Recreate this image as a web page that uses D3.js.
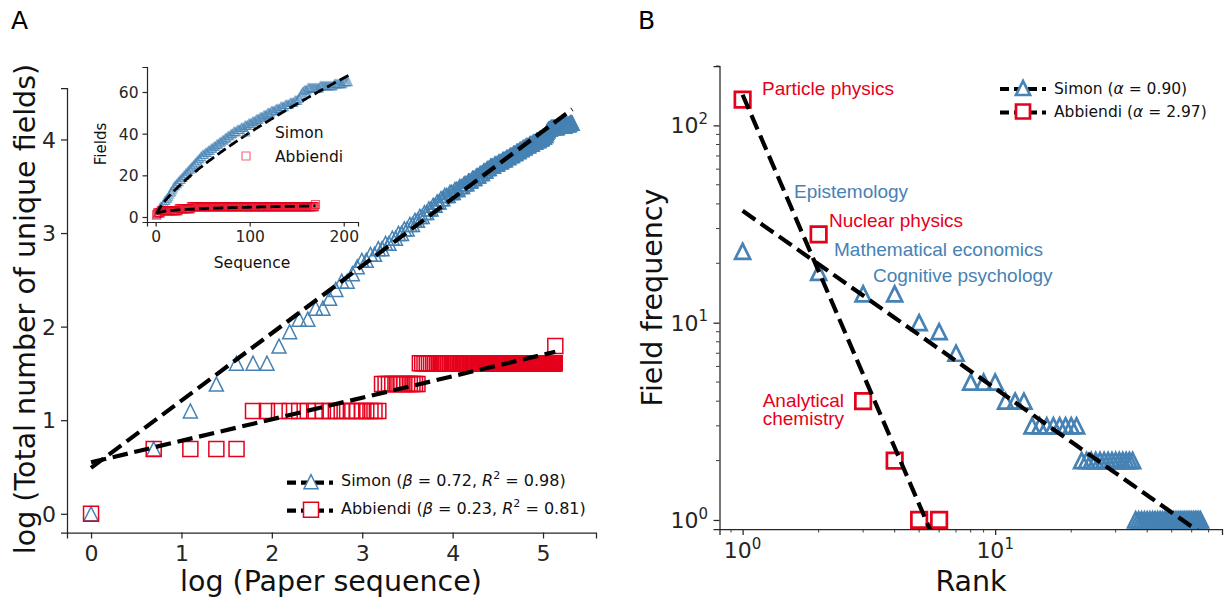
<!DOCTYPE html>
<html><head><meta charset="utf-8">
<script src="https://cdn.jsdelivr.net/npm/d3@7"></script>
<style>body{margin:0;background:#fff} svg{display:block}</style>
</head><body><svg id="c" width="1225" height="600"></svg>
<script>
// ---------------- DATA ----------------
// Paper sequence numbers at which each new field first appears
const simonNewFieldAt = [1,2,3,4,5,8,9,10,12,14,15,16,18,19,20,22,24,26,28,30,32,34,36,38,40,42,44,46,48,50,53,56,59,62,65,68,71,74,77,80,83,87,91,95,99,103,107,111,115,119,123,128,133,138,143,148,152,154,155,156,158,162,175,190,200];
const simonPapers = 205;
const abbiendiNewFieldAt = [1,2,6,25,38,170];
const abbiendiPapers = 170;
// Field frequency by rank
const simonRankFreq = [23,18,14,14,10,9,7,5,5,5,4,4,4,3,3,3,3,3,3,3,3,
  2,2,2,2,2,2,2,2,2,2,2,2,2,2,
  1,1,1,1,1,1,1,1,1,1,1,1,1,1,1,1,1,1,1,1,1,1,1,1,1,1,1,1,1,1];
const abbiendiRankFreq = [135,28,4,2,1,1];
// Fits
const seriesNames = ["Simon","Abbiendi"];
const growthBeta = [0.72, 0.23];
const growthR2 = [0.98, 0.81];
const growthIntercept = [0.49, 0.55];      // log-log intercept (panel A)
const insetCoef = [1.47, 1.63];            // Fields = c * Sequence^beta (inset)
const zipfAlpha = [0.90, 2.97];
const zipfCoef = [36.9, 143];
// Tick labels
const ticksAx = [0,1,2,3,4,5];
const ticksAy = [0,1,2,3,4];
const ticksIx = [0,100,200];
const ticksIy = [0,20,40,60];
const ticksBmajor = [1,10,100];
const annotationTexts = [["Particle physics"],["Epistemology"],["Nuclear physics"],["Mathematical economics"],["Cognitive psychology"],["Analytical","chemistry"]];
const annotationSeries = [1,0,1,0,0,1];

// ---------------- STYLE ----------------
const BLUE = "#4682b4", RED = "#e5001c", INK = "#262626";
const FONT = "DejaVu Sans", AFONT = "Liberation Sans, Arial, sans-serif";
const TICK_FS = 22, LABEL_FS = 28.5;
const svg = d3.select("#c");
svg.append("rect").attr("width",1225).attr("height",600).attr("fill","#fff");

const triPath = s => `M0,${-s/2}L${-s/2},${s/2}L${s/2},${s/2}Z`;
const sqPath = s => `M${-s/2},${-s/2}H${s/2}V${s/2}H${-s/2}Z`;

function cumulative(newAt, N){
  const out=[];
  for(let n=1;n<=N;n++){ out.push({n, c:newAt.filter(s=>s<=n).length}); }
  return out;
}
const simonCum = cumulative(simonNewFieldAt, simonPapers);
const abbCum = cumulative(abbiendiNewFieldAt, abbiendiPapers);

function supText(sel, base, sup, fs, sfs){
  sel.append("tspan").text(base);
  sel.append("tspan").attr("font-size",sfs).attr("dy",-fs*0.42).text(sup);
}

// ---------------- PANEL A ----------------
const xA = d3.scaleLinear().domain([-0.266,5.586]).range([67,596]);
const yA = d3.scaleLinear().domain([-0.2,4.55]).range([532.5,88]);
const gA = svg.append("g");
gA.append("text").attr("x",11).attr("y",29).attr("font-family",FONT).attr("font-size",25).text("A");
const axAx = gA.append("g").attr("transform","translate(0,532.5)")
  .call(d3.axisBottom(xA).tickValues(ticksAx).tickFormat(d3.format("d")).tickSizeOuter(0).tickSize(6).tickPadding(7));
const axAy = gA.append("g").attr("transform","translate(67,0)")
  .call(d3.axisLeft(yA).tickValues(ticksAy).tickFormat(d3.format("d")).tickSizeOuter(0).tickSize(6).tickPadding(5));
[axAx,axAy].forEach(a=>{a.selectAll("text").attr("font-family",FONT).attr("font-size",TICK_FS).attr("fill",INK);
  a.selectAll("line,path").attr("stroke",INK).attr("stroke-width",1.25);});
axAy.selectAll("text").attr("dy","0.35em");
gA.append("text").attr("x",331).attr("y",591).attr("text-anchor","middle").attr("font-family",FONT).attr("font-size",LABEL_FS).attr("fill","#111").text("log (Paper sequence)");
gA.append("text").attr("transform","translate(35,309) rotate(-90)").attr("text-anchor","middle").attr("font-family",FONT).attr("font-size",LABEL_FS).attr("fill","#111").text("log (Total number of unique fields)");

gA.append("g").selectAll("path").data(simonCum).join("path")
  .attr("d",triPath(14)).attr("transform",d=>`translate(${xA(Math.log(d.n))},${yA(Math.log(d.c))})`)
  .attr("fill","none").attr("stroke",BLUE).attr("stroke-width",1.5);
gA.append("g").selectAll("path").data(abbCum).join("path")
  .attr("d",sqPath(15)).attr("transform",d=>`translate(${xA(Math.log(d.n))},${yA(Math.log(d.c))})`)
  .attr("fill","none").attr("stroke",RED).attr("stroke-width",1.5);
const lineA = d3.line().x(d=>xA(d[0])).y(d=>yA(d[1]));
[simonPapers, abbiendiPapers].forEach((N,i)=>{
  const xs=[0, Math.log(N)];
  gA.append("path").attr("d",lineA(xs.map(x=>[x, growthIntercept[i]+growthBeta[i]*x])))
    .attr("fill","none").attr("stroke","#000").attr("stroke-width",4.2).attr("stroke-dasharray","15.5,6.7");
});
[0,1].forEach(i=>{
  const y = 482.7 + i*28;
  const g = gA.append("g");
  g.append("line").attr("x1",287).attr("x2",333).attr("y1",y).attr("y2",y).attr("stroke","#000").attr("stroke-width",4.2).attr("stroke-dasharray","9,5");
  g.append("path").attr("d", i===0?triPath(14):sqPath(15)).attr("transform",`translate(311,${y-1})`)
    .attr("fill","#fff").attr("stroke", i===0?BLUE:RED).attr("stroke-width",1.5);
  const t = g.append("text").attr("x",341).attr("y",y+3).attr("font-family",FONT).attr("font-size",16).attr("fill","#111");
  t.append("tspan").text(`${seriesNames[i]} (`);
  t.append("tspan").attr("font-style","italic").text("β");
  t.append("tspan").text(` = ${growthBeta[i].toFixed(2)}, `);
  t.append("tspan").attr("font-style","italic").text("R");
  t.append("tspan").attr("font-size",11).attr("dy",-7).text("2");
  t.append("tspan").attr("dy",7).text(` = ${growthR2[i].toFixed(2)})`);
});

// ---------------- INSET ----------------
const xI = d3.scaleLinear().domain([-9.2,215.2]).range([147,358]);
const yI = d3.scaleLinear().domain([-2.4,72]).range([222,67]);
const gI = svg.append("g");
const axIx = gI.append("g").attr("transform","translate(0,222)")
  .call(d3.axisBottom(xI).tickValues(ticksIx).tickFormat(d3.format("d")).tickSizeOuter(0).tickSize(4.5).tickPadding(4));
const axIy = gI.append("g").attr("transform","translate(147,0)")
  .call(d3.axisLeft(yI).tickValues(ticksIy).tickFormat(d3.format("d")).tickSizeOuter(0).tickSize(4.5).tickPadding(4));
[axIx,axIy].forEach(a=>{a.selectAll("text").attr("font-family",FONT).attr("font-size",15.5).attr("fill",INK);
  a.selectAll("line,path").attr("stroke",INK).attr("stroke-width",1.2);});
axIy.selectAll("text").attr("dy","0.35em");
gI.append("text").attr("x",252).attr("y",268).attr("text-anchor","middle").attr("font-family",FONT).attr("font-size",15.5).attr("fill","#111").text("Sequence");
gI.append("text").attr("transform","translate(106,144) rotate(-90)").attr("text-anchor","middle").attr("font-family",FONT).attr("font-size",15).attr("fill","#111").text("Fields");
gI.append("g").selectAll("path").data(simonCum).join("path")
  .attr("d",triPath(8)).attr("transform",d=>`translate(${xI(d.n)},${yI(d.c)})`)
  .attr("fill","none").attr("stroke",BLUE).attr("stroke-opacity",0.55).attr("stroke-width",1.1);
gI.append("g").selectAll("path").data(abbCum).join("path")
  .attr("d",sqPath(8)).attr("transform",d=>`translate(${xI(d.n)},${yI(d.c)})`)
  .attr("fill","none").attr("stroke",RED).attr("stroke-opacity",0.6).attr("stroke-width",1.2);
const lineI = d3.line().x(d=>xI(d[0])).y(d=>yI(d[1]));
[simonPapers, abbiendiPapers].forEach((N,i)=>{
  const pts = d3.range(1, N+1).map(n=>[n, insetCoef[i]*Math.pow(n, growthBeta[i])]);
  gI.append("path").attr("d",lineI(pts)).attr("fill","none").attr("stroke","#000").attr("stroke-width",2.8).attr("stroke-dasharray","10,4.3");
});
[0,1].forEach(i=>{
  const y = 132 + i*24;
  gI.append("path").attr("d", i===0?triPath(8):sqPath(8)).attr("transform",`translate(246,${y})`)
    .attr("fill","none").attr("stroke", i===0?BLUE:RED).attr("stroke-opacity",0.6).attr("stroke-width",1.1);
  gI.append("text").attr("x",275).attr("y",y+5.5).attr("font-family",FONT).attr("font-size",15.5).attr("fill","#111").text(seriesNames[i]);
});

// ---------------- PANEL B ----------------
const xB = d3.scaleLog().domain([0.81,79.1]).range([719.5,1222]);
const yB = d3.scaleLog().domain([0.9,200]).range([529,66]);
const gB = svg.append("g");
gB.append("text").attr("x",638).attr("y",29).attr("font-family",FONT).attr("font-size",25).text("B");
const minorX = [0.9,2,3,4,5,6,7,8,9,20,30,40,50,60,70];
const minorY = [2,3,4,5,6,7,8,9,20,30,40,50,60,70,80,90,200];
gB.append("g").selectAll("line").data(minorX).join("line")
  .attr("x1",d=>xB(d)).attr("x2",d=>xB(d)).attr("y1",529).attr("y2",532.5).attr("stroke",INK).attr("stroke-width",0.9);
gB.append("g").selectAll("line").data(minorY).join("line")
  .attr("y1",d=>yB(d)).attr("y2",d=>yB(d)).attr("x1",719.5).attr("x2",716).attr("stroke",INK).attr("stroke-width",0.9);
const axBx = gB.append("g").attr("transform","translate(0,529)")
  .call(d3.axisBottom(xB).tickValues(ticksBmajor.filter(v=>v<=79)).tickFormat("").tickSizeOuter(0).tickSize(6));
const axBy = gB.append("g").attr("transform","translate(719.5,0)")
  .call(d3.axisLeft(yB).tickValues(ticksBmajor).tickFormat("").tickSizeOuter(0).tickSize(6));
[axBx,axBy].forEach(a=>a.selectAll("line,path").attr("stroke",INK).attr("stroke-width",1.25));
ticksBmajor.filter(v=>v<=79).forEach(v=>{
  const t = gB.append("text").attr("x",xB(v)).attr("y",558).attr("text-anchor","middle").attr("font-family",FONT).attr("font-size",TICK_FS).attr("fill",INK);
  supText(t,"10",String(Math.log10(v)),TICK_FS,15);
});
ticksBmajor.forEach(v=>{
  const t = gB.append("text").attr("x",708).attr("y",yB(v)+8).attr("text-anchor","end").attr("font-family",FONT).attr("font-size",TICK_FS).attr("fill",INK);
  supText(t,"10",String(Math.log10(v)),TICK_FS,15);
});
gB.append("text").attr("x",971).attr("y",591).attr("text-anchor","middle").attr("font-family",FONT).attr("font-size",LABEL_FS).attr("fill","#111").text("Rank");
gB.append("text").attr("transform","translate(662,297.5) rotate(-90)").attr("text-anchor","middle").attr("font-family",FONT).attr("font-size",LABEL_FS).attr("fill","#111").text("Field frequency");

gB.append("clipPath").attr("id","clipB").append("rect").attr("x",719.5).attr("y",66).attr("width",503).attr("height",463);
gB.append("g").selectAll("path").data(simonRankFreq).join("path")
  .attr("d",triPath(15)).attr("transform",(d,i)=>`translate(${xB(i+1)},${yB(d)})`)
  .attr("fill","none").attr("stroke",BLUE).attr("stroke-width",2.7);
gB.append("g").selectAll("path").data(abbiendiRankFreq).join("path")
  .attr("d",sqPath(15.5)).attr("transform",(d,i)=>`translate(${xB(i+1)},${yB(d)})`)
  .attr("fill","none").attr("stroke",RED).attr("stroke-width",2.7);
const lineB = d3.line().x(d=>xB(d[0])).y(d=>yB(d[1]));
[simonRankFreq.length, abbiendiRankFreq.length].forEach((N,i)=>{
  const pts = d3.range(1, N+1).map(r=>[r, zipfCoef[i]*Math.pow(r,-zipfAlpha[i])]);
  gB.append("path").attr("d",lineB(pts)).attr("clip-path","url(#clipB)").attr("fill","none")
    .attr("stroke","#000").attr("stroke-width",4.2).attr("stroke-dasharray","15.5,6.7");
});
const annotationPos = [[762,95],[794,198.3],[829,227.3],[834,256],[873,282.3],[844,406.7]];
annotationTexts.forEach((lines,k)=>{
  const [x,y] = annotationPos[k];
  const right = lines.length>1;
  lines.forEach((ln,j)=>{
    gB.append("text").attr("x",x).attr("y",y+j*18.6).attr("text-anchor", right?"end":"start")
      .attr("font-family",AFONT).attr("font-size",19).attr("fill", annotationSeries[k]===0?BLUE:RED).text(ln);
  });
});
[0,1].forEach(i=>{
  const y = 88 + i*23.5;
  const g = gB.append("g");
  g.append("line").attr("x1",1000).attr("x2",1046).attr("y1",y+1).attr("y2",y+1).attr("stroke","#000").attr("stroke-width",4.2).attr("stroke-dasharray","9,5");
  g.append("path").attr("d", i===0?triPath(14):sqPath(14)).attr("transform",`translate(1023,${y})`)
    .attr("fill","#fff").attr("stroke", i===0?BLUE:RED).attr("stroke-width",2.7);
  const t = g.append("text").attr("x",1054).attr("y",y+5.5).attr("font-family",FONT).attr("font-size",15.5).attr("fill","#111");
  t.append("tspan").text(`${seriesNames[i]} (`);
  t.append("tspan").attr("font-style","italic").text("α");
  t.append("tspan").text(` = ${zipfAlpha[i].toFixed(2)})`);
});
</script></body></html>
